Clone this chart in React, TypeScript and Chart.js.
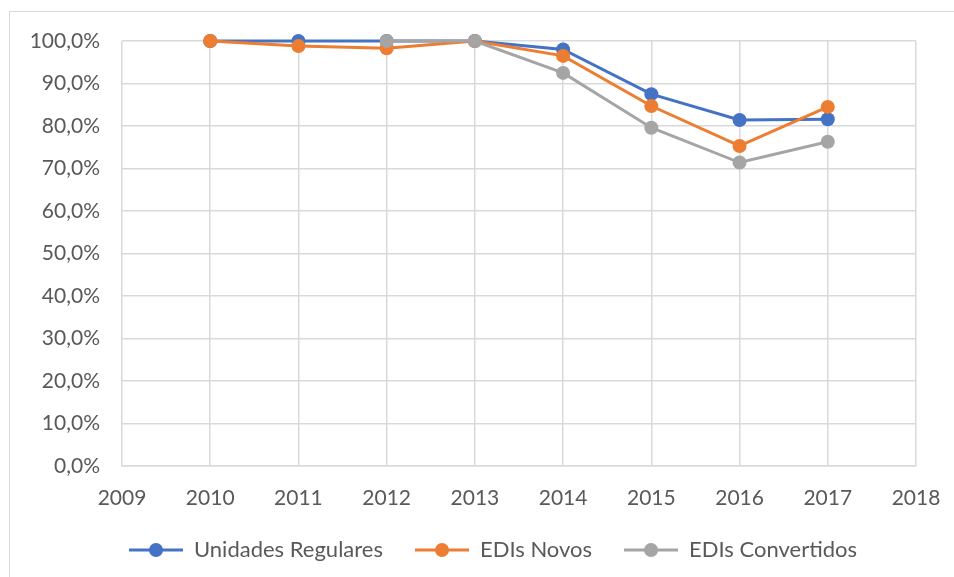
import React, { useEffect, useRef } from "react";
import { Chart, registerables } from "chart.js";

Chart.register(...registerables);

const years = [2010, 2011, 2012, 2013, 2014, 2015, 2016, 2017];
const unidadesRegulares = [100, 100, 100, 100, 98.0, 87.5, 81.4, 81.6];
const edisNovos = [100, 98.8, 98.3, 100, 96.5, 84.7, 75.3, 84.5];
const edisConvertidos = [null, null, 100, 100, 92.5, 79.6, 71.4, 76.3];
const seriesNames = ["Unidades Regulares", "EDIs Novos", "EDIs Convertidos"];
const colors = ["#4472C4", "#ED7D31", "#A5A5A5"];
const xMin = 2009;
const xMax = 2018;

const FONT = "Lato, 'Open Sans', sans-serif";

function legendIcon(color: string) {
  const c = document.createElement("canvas");
  c.width = 54;
  c.height = 16;
  const ctx = c.getContext("2d")!;
  ctx.strokeStyle = color;
  ctx.lineWidth = 3;
  ctx.beginPath();
  ctx.moveTo(0, 8);
  ctx.lineTo(54, 8);
  ctx.stroke();
  ctx.fillStyle = color;
  ctx.beginPath();
  ctx.arc(27, 8, 7, 0, Math.PI * 2);
  ctx.fill();
  return c;
}

const shiftLegend = {
  id: "shiftLegend",
  afterLayout(chart: any) {
    if (chart.legend) {
      chart.legend.left += 35;
      chart.legend.right += 35;
    }
  },
};

export default function App() {
  const ref = useRef<HTMLCanvasElement | null>(null);
  useEffect(() => {
    if (!ref.current) return;
    const all = [unidadesRegulares, edisNovos, edisConvertidos];
    const icons = colors.map(legendIcon);
    const chart = new Chart(ref.current, {
      type: "line",
      data: {
        datasets: all.map((vals, i) => ({
          label: seriesNames[i],
          data: years.map((y, j) => ({ x: y, y: vals[j] })),
          borderColor: colors[i],
          backgroundColor: colors[i],
          borderWidth: 3,
          pointRadius: 7,
          pointHoverRadius: 7,
          pointBackgroundColor: colors[i],
          pointBorderWidth: 0,
          pointStyle: "circle",
          order: 2 - i,
          spanGaps: false,
          tension: 0,
          clip: false,
        })) as any,
      },
      options: {
        animation: false,
        responsive: false,
        maintainAspectRatio: false,
        layout: { padding: { left: 0, right: 38, top: 41, bottom: 6 } },
        scales: {
          x: {
            type: "linear",
            min: xMin,
            max: xMax,
            ticks: {
              stepSize: 1,
              color: "#595959",
              font: { family: FONT, size: 21 },
              padding: 0,
              callback: (v: any) => String(v),
              maxRotation: 0,
            },
            grid: {
              color: "#d9d9d9",
              lineWidth: 1.5,
              drawTicks: true,
              tickLength: 20,
              tickColor: "rgba(0,0,0,0)",
            },
            border: { color: "#d9d9d9", width: 1.5 },
            afterFit: (s: any) => {
              s.height = 41;
            },
          },
          y: {
            min: 0,
            max: 100,
            ticks: {
              stepSize: 10,
              color: "#595959",
              font: { family: FONT, size: 21 },
              padding: 22,
              callback: (v: any) => Number(v).toFixed(1).replace(".", ",") + "%",
            },
            grid: { color: "#d9d9d9", lineWidth: 1.5, drawTicks: false },
            border: { display: false },
            afterFit: (s: any) => {
              s.width = 122;
            },
          },
        },
        plugins: {
          tooltip: { enabled: false },
          legend: {
            position: "bottom",
            labels: {
              usePointStyle: true,
              pointStyleWidth: 54,
              color: "#595959",
              font: { family: FONT, size: 22 },
              padding: 32,
              generateLabels: (ch: any) =>
                ch.data.datasets.map((d: any, i: number) => ({
                  text: d.label,
                  fillStyle: colors[i],
                  strokeStyle: colors[i],
                  lineWidth: 0,
                  pointStyle: icons[i],
                  hidden: false,
                  datasetIndex: i,
                  fontColor: "#595959",
                })),
            },
          },
        },
      } as any,
      plugins: [shiftLegend],
    });
    return () => chart.destroy();
  }, []);
  return (
    <div
      style={{
        position: "fixed",
        left: 0,
        top: 0,
        width: 954,
        height: 577,
        overflow: "hidden",
        background: "#fff",
      }}
    >
      <div
        style={{
          position: "absolute",
          left: 9,
          top: 11,
          width: 1000,
          height: 700,
          border: "1.5px solid #d9d9d9",
        }}
      />
      <canvas
        ref={ref}
        width={954}
        height={577}
        style={{ position: "absolute", left: 0, top: 0, width: 954, height: 577 }}
      />
    </div>
  );
}
